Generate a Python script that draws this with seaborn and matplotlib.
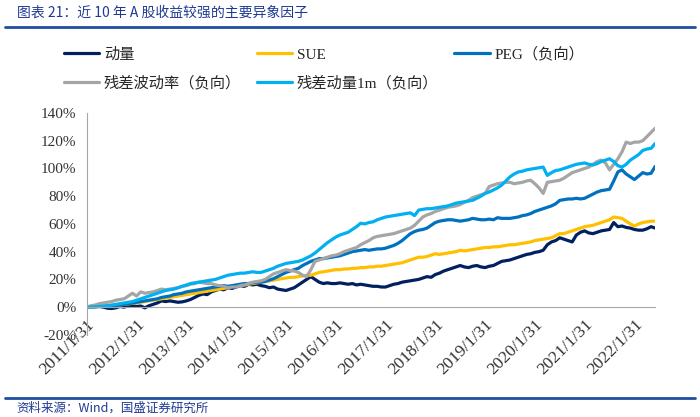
import matplotlib
matplotlib.use("Agg")
import matplotlib.pyplot as plt
import seaborn as sns
import numpy as np
import pandas as pd

# monthly points, 2011/1/31 .. 2022/6/30
mom = [0, 0.5, 0.3, 0.5, 0, -0.8, -1, -0.5, 0.5, 0, 1, 1.2,
       0.5, 0.8, -0.5, 1, 2, 3, 4.5, 4, 4.5, 4, 3.5, 3.8,
       4.5, 5.5, 7, 8.5, 9.5, 9, 11, 12, 13, 12.5, 14, 13.5,
       14.5, 15.5, 15, 16.5, 16, 16.5, 15.5, 15, 14, 14.5, 13, 12.5,
       12, 13, 14, 16, 18, 20, 22, 20, 18, 17, 17.5, 17,
       17, 17.5, 17, 16.5, 17, 16, 16.5, 16, 15.5, 15, 15, 14.5,
       14.5, 15.5, 16.5, 17, 18, 18.5, 19, 19.5, 20, 21, 22, 21.5,
       23.5, 24.5, 26, 27, 28, 29, 30, 29, 28.5, 29.5, 30, 29,
       28.5, 29.5, 30, 31.5, 33, 33.5, 34, 35, 36, 37, 38, 38.5,
       39.5, 40, 41, 45, 47, 48, 50, 49, 48, 47, 52, 54,
       55, 53.5, 53, 54, 55, 55.5, 56, 61, 58, 58.5, 57.5, 57,
       56, 55.5, 55.5, 56.5, 58, 57]
sue = [0, 0.2, 0.3, 0.5, 0.6, 0.8, 1, 1.2, 1.5, 2, 2.3, 2.8,
       3, 3.5, 4, 4.5, 5, 5.5, 6, 6.5, 7, 7.5, 8, 8.5,
       9, 9.5, 10, 10.5, 11, 11.5, 12, 12.5, 13, 13.5, 14, 15,
       15.5, 16, 16, 16.5, 17, 17.5, 18, 18.5, 19, 19.5, 20, 20.5,
       21, 21.5, 21.5, 22, 22.5, 23, 23, 24, 25, 25.5, 26, 26.5,
       27, 27, 27.5, 27.5, 28, 28, 28.5, 28.5, 29, 29, 29.5, 29.5,
       30, 30.5, 31, 31.5, 32, 33, 34, 35, 36, 36, 36.5, 37.5,
       38.5, 38, 38.5, 39, 39.5, 40, 41, 40.5, 41, 41.5, 42, 42.5,
       43, 43, 43.5, 43.5, 44, 44.5, 45, 45, 45.5, 46, 46.5, 47,
       48, 48.5, 49, 49.5, 50, 51.5, 53, 53, 54, 55, 56, 57,
       58, 58.5, 59, 60, 61, 62, 63, 65, 64.5, 64, 62, 60,
       58.5, 60, 61, 61.5, 62, 62]
peg = [0, 0.2, 0.3, 0.5, 0.5, 0.8, 1, 1.2, 1.5, 2, 2.5, 3,
       3.5, 4, 4.5, 5, 5.5, 6, 7, 7.5, 8, 9, 9.5, 10,
       11, 11.5, 12, 12.5, 13, 13.5, 14, 14.5, 15, 15.5, 15, 15.5,
       16, 16.5, 17, 17, 17.5, 18, 18, 18.5, 19.5, 20.5, 22, 23.5,
       25, 26, 27, 28, 30, 31.5, 33, 34, 35, 35, 35.5, 36,
       36.5, 37, 38, 39, 40, 40.5, 41, 41.5, 41, 41.5, 42, 42,
       42.5, 43.5, 44.5, 46, 48, 50.5, 53, 54.5, 55.5, 56, 57, 59,
       61, 62, 62.5, 63, 63, 62.5, 62, 62.5, 63, 64, 63.5, 63,
       63, 63.5, 63, 64.5, 64, 64, 64, 64.5, 65, 66, 66.5, 67.5,
       69, 70, 71, 72, 73, 74.5, 77, 77.5, 78, 78, 78.5, 78,
       78.5, 80, 81.5, 83, 84, 84.5, 85, 91, 97.5, 99, 96, 94,
       92, 94.5, 97, 96, 96.5, 101.5]
resvol = [0, 1, 1.5, 2.5, 3, 3.5, 4, 5, 5.5, 6, 8, 10,
          8, 11, 10, 10.5, 11, 12, 13, 12.5, 13, 13.5, 14, 15,
          15.5, 16.5, 17, 18, 17.5, 17, 17, 16, 15.5, 15, 14, 14.5,
          14.5, 15.5, 16, 17, 18, 18.5, 19, 20, 22, 24, 25, 26,
          27, 26.5, 26, 25, 23, 22, 27, 33, 34, 35, 36, 37,
          37.5, 38.5, 40, 41, 42, 43, 45, 46.5, 48, 50, 51, 51.5,
          52, 52.5, 53, 54, 55, 56, 57, 59, 62, 65, 66.5, 67.5,
          69, 70, 71, 72, 72.5, 73, 74, 75.5, 77, 79, 80, 81,
          82, 87, 88, 89, 89.5, 90, 90, 89, 89.5, 90, 91, 91.5,
          89, 86, 82, 90, 90.5, 91, 91.5, 93, 95, 97, 98, 99,
          100, 101, 103, 105, 106, 104, 99, 103, 107, 112, 119, 118,
          119, 119, 120, 123, 126, 129]
resmom = [0, 0, 0.3, 0.5, 0.8, 1, 1.5, 2, 2.5, 3, 3.5, 4,
          5, 6, 7, 8, 9, 10, 11, 12, 12.5, 13, 14, 15,
          16, 17, 17.5, 18, 18.5, 19, 19.5, 20, 21, 22, 23, 23.5,
          24, 24.5, 24.5, 25, 25.5, 25, 25, 26, 27, 28, 29.5, 30.5,
          31.5, 32, 32.5, 33, 34, 35.5, 37, 39, 41.5, 44, 46.5, 48.5,
          50.5, 52, 53, 54, 56, 58, 60.5, 60, 61, 61.5, 63, 64,
          65, 65.5, 66, 66.5, 67, 67.5, 68, 66, 70, 70.5, 71, 71,
          71.5, 72, 72.5, 73, 74, 75, 75.5, 76, 76.5, 77, 78.5, 80,
          82, 83, 84.5, 86, 88, 91, 94, 96, 97.5, 98, 99, 99.5,
          100, 100.5, 101, 95, 97, 98.5, 99, 100, 101, 102, 103, 103.5,
          104, 103, 102.5, 103.5, 105, 106, 107, 105, 102, 101, 103, 106,
          108, 110, 113, 114, 114.5, 118]

names = ["动量", "SUE", "PEG（负向）", "残差波动率（负向）", "残差动量1m（负向）"]
colors = ["#002060", "#FFC000", "#0070C0", "#A5A5A5", "#00B0F0"]
tick_labels = [f"{y}/1/31" for y in range(2011, 2023)]

df = pd.DataFrame({names[0]: mom, names[1]: sue, names[2]: peg,
                   names[3]: resvol, names[4]: resmom})
df["idx"] = np.arange(len(df))
long = df.melt(id_vars="idx", var_name="factor", value_name="ret")

sns.set_style("white")
plt.rcParams["font.family"] = ["Liberation Serif", "Noto Sans CJK SC", "DejaVu Sans"]

fig = plt.figure(figsize=(7, 4.17), dpi=100)
ax = fig.add_axes([0.124, 0.197, 0.812, 0.532])

sns.lineplot(data=long, x="idx", y="ret", hue="factor", hue_order=names,
             palette=colors, linewidth=2.3, ax=ax, legend=True)

# move the x axis onto 0% first, it resets the tick objects
for s in ["top", "right"]:
    ax.spines[s].set_visible(False)
ax.spines["bottom"].set_position(("data", 0))
ax.spines["bottom"].set_color("#A6A6A6")
ax.spines["left"].set_color("#A6A6A6")

ax.set_xlim(0, len(mom) - 1)
ax.set_ylim(-20, 140)
ax.set_yticks(range(-20, 141, 20))
ax.set_yticklabels([f"{v}%" for v in range(-20, 141, 20)], fontsize=11, color="#333333")
ax.set_xticks(range(0, len(mom), 12))
ax.set_xticklabels(tick_labels, rotation=45, ha="right", rotation_mode="anchor",
                   fontsize=12.5, color="#333333")
ax.set_xlabel("")
ax.set_ylabel("")
ax.tick_params(axis="both", direction="out", length=4, color="#A6A6A6", width=0.8)
ax.tick_params(axis="x", pad=3)

h, l = ax.get_legend_handles_labels()
ax.get_legend().remove()
order = [0, 3, 1, 4, 2]
fig.legend([h[i] for i in order], [l[i] for i in order],
           ncol=3, loc="upper left", bbox_to_anchor=(0.072, 0.92),
           frameon=False, handlelength=2.3, handletextpad=0.3,
           columnspacing=1.05, labelspacing=0.9,
           prop={"family": ["Liberation Serif", "Noto Sans CJK SC"], "size": 11})

title_c = "#1F3A93"
fig.text(0.024, 0.969, "图表 21：近 10 年 A 股收益较强的主要异象因子", fontsize=10,
         color=title_c, style="italic", va="center",
         family=["Noto Sans CJK SC", "DejaVu Sans"])
fig.add_artist(plt.Line2D([0.007, 0.993], [0.935, 0.935], color="#1F4E9F", lw=2))
fig.add_artist(plt.Line2D([0.007, 0.993], [0.046, 0.046], color="#1F4E9F", lw=2))
fig.text(0.024, 0.022, "资料来源：Wind，国盛证券研究所", fontsize=9,
         color=title_c, style="italic", va="center",
         family=["Noto Sans CJK SC", "DejaVu Sans"])

fig.savefig("out.png", dpi=100)
